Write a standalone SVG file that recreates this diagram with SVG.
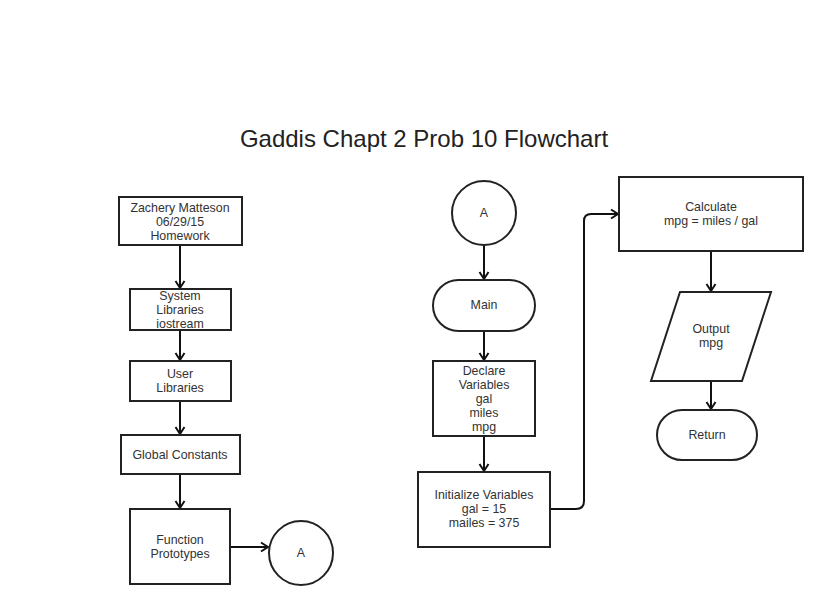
<svg xmlns="http://www.w3.org/2000/svg" width="827" height="604" viewBox="0 0 827 604">
<defs>
<style>
.s{fill:#fff;stroke:#222;stroke-width:2}
.t{font-family:"Liberation Sans",Arial,sans-serif;font-size:12.4px;fill:#333;text-anchor:middle}
.c{fill:none;stroke:#111;stroke-width:2}
</style>
<marker id="ah" markerWidth="12" markerHeight="12" refX="9" refY="6" orient="auto" markerUnits="userSpaceOnUse">
<path d="M2,1.5 L9,6 L2,10.5" fill="none" stroke="#111" stroke-width="2"/>
</marker>
</defs>
<rect width="827" height="604" fill="#fff"/>
<text x="424" y="147" font-family="'Liberation Sans',Arial,sans-serif" font-size="24" fill="#222" text-anchor="middle">Gaddis Chapt 2 Prob 10 Flowchart</text>

<g id="connectors">
<path class="c" d="M180,245 V288" marker-end="url(#ah)"/>
<path class="c" d="M180,330 V360" marker-end="url(#ah)"/>
<path class="c" d="M180,401 V434" marker-end="url(#ah)"/>
<path class="c" d="M180,474 V508" marker-end="url(#ah)"/>
<path class="c" d="M230,547 H268" marker-end="url(#ah)"/>
<path class="c" d="M484,245 V279" marker-end="url(#ah)"/>
<path class="c" d="M484,331 V360" marker-end="url(#ah)"/>
<path class="c" d="M484,436 V471" marker-end="url(#ah)"/>
<path class="c" d="M550,509 H576 Q584,509 584,501 V221 Q584,214 591,214 H618" marker-end="url(#ah)"/>
<path class="c" d="M711,251 V291" marker-end="url(#ah)"/>
<path class="c" d="M711,381 V409" marker-end="url(#ah)"/>
</g>

<g id="header">
<rect class="s" x="119" y="197" width="123" height="48"/>
<text class="t" x="180" y="212">Zachery Matteson</text>
<text class="t" x="180" y="226">06/29/15</text>
<text class="t" x="180" y="240">Homework</text>
</g>
<g id="syslib">
<rect class="s" x="130" y="289" width="101" height="41"/>
<text class="t" x="180" y="300">System</text>
<text class="t" x="180" y="314">Libraries</text>
<text class="t" x="180" y="328">iostream</text>
</g>
<g id="userlib">
<rect class="s" x="130" y="361" width="101" height="40"/>
<text class="t" x="180" y="378">User</text>
<text class="t" x="180" y="392">Libraries</text>
</g>
<g id="globals">
<rect class="s" x="121" y="435" width="119" height="39"/>
<text class="t" x="180" y="459">Global Constants</text>
</g>
<g id="protos">
<rect class="s" x="130" y="509" width="100" height="75"/>
<text class="t" x="180" y="544">Function</text>
<text class="t" x="180" y="558">Prototypes</text>
</g>
<g id="connA1">
<circle class="s" cx="301" cy="553" r="32"/>
<text class="t" x="301" y="557">A</text>
</g>
<g id="connA2">
<circle class="s" cx="484" cy="213" r="32"/>
<text class="t" x="484" y="217">A</text>
</g>
<g id="main">
<rect class="s" x="433" y="280" width="102" height="51" rx="25.5"/>
<text class="t" x="484" y="309">Main</text>
</g>
<g id="declare">
<rect class="s" x="433" y="361" width="102" height="75"/>
<text class="t" x="484" y="375">Declare</text>
<text class="t" x="484" y="389">Variables</text>
<text class="t" x="484" y="403">gal</text>
<text class="t" x="484" y="417">miles</text>
<text class="t" x="484" y="431">mpg</text>
</g>
<g id="init">
<rect class="s" x="418" y="472" width="132" height="75"/>
<text class="t" x="484" y="499">Initialize Variables</text>
<text class="t" x="484" y="513">gal = 15</text>
<text class="t" x="484" y="527">mailes = 375</text>
</g>
<g id="calc">
<rect class="s" x="619" y="177" width="184" height="74"/>
<text class="t" x="711" y="211">Calculate</text>
<text class="t" x="711" y="225">mpg = miles / gal</text>
</g>
<g id="output">
<polygon class="s" points="680,292 771,292 742,381 651,381"/>
<text class="t" x="711" y="333">Output</text>
<text class="t" x="711" y="347">mpg</text>
</g>
<g id="return">
<rect class="s" x="657" y="410" width="100" height="50" rx="25"/>
<text class="t" x="707" y="439">Return</text>
</g>
</svg>
